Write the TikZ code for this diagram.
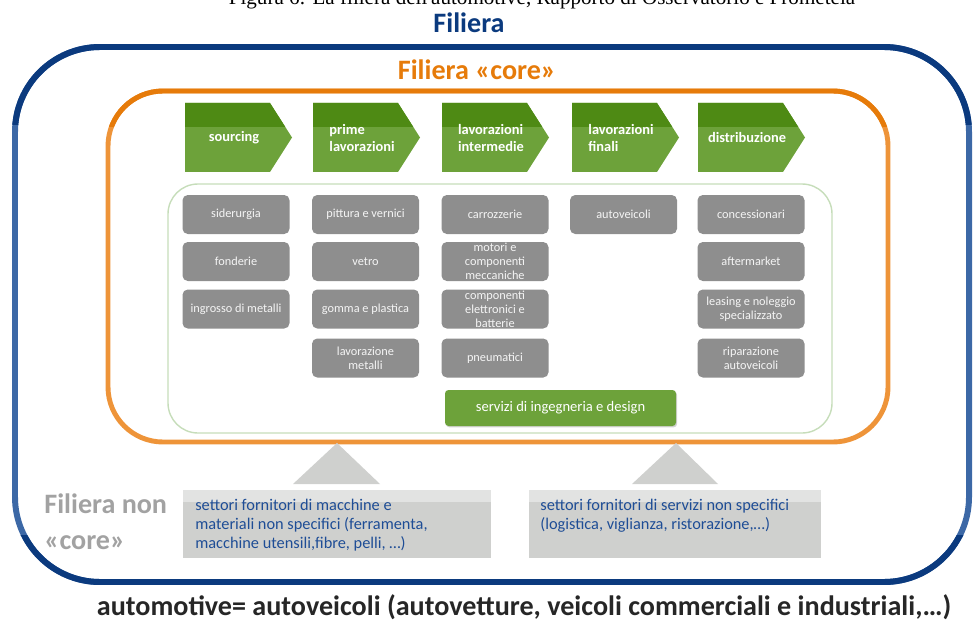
\documentclass[tikz,border=0pt]{standalone}
\usepackage{fontspec}
\setmainfont{Carlito}
\newfontfamily\capfont{Liberation Serif}
\usetikzlibrary{shadows}

\definecolor{fnavy}{HTML}{0B3A7E}
\definecolor{fblue}{HTML}{3C68A6}
\definecolor{forange}{HTML}{E67B0A}
\definecolor{flightorange}{HTML}{EE9439}
\definecolor{fdarkgreen}{HTML}{4E8A14}
\definecolor{fgreen}{HTML}{6DA23A}
\definecolor{fboxgray}{HTML}{8E8E8E}
\definecolor{fpalegray}{HTML}{CFD0CE}
\definecolor{fpalegreen}{HTML}{C6DDBA}
\definecolor{ftextblue}{HTML}{1E4D96}
\definecolor{fnoncore}{HTML}{A2A2A2}

\tikzset{
  sector/.style={fill=fboxgray, rounded corners=3pt, minimum width=2.14cm,
    minimum height=0.78cm, text=white!92!gray, align=center, inner sep=0pt,
    font=\fontsize{7}{8}\selectfont},
  phase/.style={text=white, align=left, inner sep=0pt,
    font=\fontsize{8.2}{9.6}\selectfont\bfseries},
  infobox/.style={fill=fpalegray, minimum width=6.16cm, minimum height=1.36cm,
    anchor=north west, inner sep=0pt},
  infotext/.style={text=ftextblue, align=left, anchor=north west, inner sep=0pt,
    font=\fontsize{9.3}{10.8}\selectfont},
  heading/.style={inner sep=0pt, font=\fontsize{16}{19}\selectfont\bfseries}
}

% green arrow of one phase, #1 = left edge
\newcommand{\phasearrow}[1]{%
  \fill[fgreen] (#1,-10.3) -- ++(8.5,0) -- ++(2.2,-3.45) -- ++(-2.2,-3.45) -- ++(-8.5,0) -- cycle;
  \fill[fdarkgreen] (#1,-10.3) -- ++(8.5,0) -- ++(1.53,-2.4) -- ++(-10.03,0) -- cycle;}

\begin{document}
\begin{tikzpicture}[scale=0.2]
\useasboundingbox (0,0) rectangle (97.6,-62.6);
\node[anchor=base, inner sep=0pt, font=\capfont\fontsize{12}{14}\selectfont] (caption) at (54.2,-0.5)
  {Figura 6: La filiera dell'automotive, Rapporto di Osservatorio e Prometeia};

% outer frame
\node[heading, text=fnavy] (filiera) at (46.9,-2.3) {Filiera};
\draw [fblue, line width=3.4pt, rounded corners=1.7cm] (1.5,-4.7) rectangle (96.9,-58.2);
\begin{scope}
\clip (0,0) rectangle (97.6,-12.5);
\draw [fnavy, line width=3.4pt, rounded corners=1.7cm] (1.5,-4.7) rectangle (96.9,-58.2);
\end{scope}
\begin{scope}
\clip (0,-53.5) rectangle (97.6,-62.6);
\draw [fnavy, line width=3.4pt, rounded corners=1.7cm] (1.5,-4.7) rectangle (96.9,-58.2);
\end{scope}

% core frame
\node[heading, text=forange] (core) at (47.7,-7) {Filiera «core»};
\draw [flightorange, line width=2.8pt, rounded corners=1.1cm] (10.8,-9.1) rectangle (88.8,-44.2);
\begin{scope}
\clip (0,0) rectangle (97.6,-12.7);
\draw [forange, line width=2.8pt, rounded corners=1.1cm] (10.8,-9.1) rectangle (88.8,-44.2);
\end{scope}

% phases
\phasearrow{18.5}
\phasearrow{31.3}
\phasearrow{44.2}
\phasearrow{57.2}
\phasearrow{69.8}
\node[phase] (sourcing) at (23.4,-13.75) {sourcing};
\node[phase] (prime) at (36.2,-13.8) {prime\\lavorazioni};
\node[phase] (intermedie) at (49.1,-13.8) {lavorazioni\\intermedie};
\node[phase] (finali) at (62.1,-13.8) {lavorazioni\\finali};
\node[phase] (distribuzione) at (74.7,-13.75) {distribuzione};

% sectors
\draw [fpalegreen, line width=0.8pt, rounded corners=0.6cm] (16.8,-18.4) rectangle (83.2,-43.3);
\node[sector] (siderurgia) at (23.6,-21.45) {siderurgia};
\node[sector] (fonderie) at (23.6,-26.15) {fonderie};
\node[sector] (ingrosso) at (23.6,-30.9) {ingrosso di metalli};
\node[sector] (pittura) at (36.55,-21.45) {pittura e vernici};
\node[sector] (vetro) at (36.55,-26.15) {vetro};
\node[sector] (gomma) at (36.55,-30.9) {gomma e plastica};
\node[sector] (metalli) at (36.55,-35.8) {lavorazione\\metalli};
\node[sector] (carrozzerie) at (49.5,-21.45) {carrozzerie};
\node[sector] (motori) at (49.5,-26.15) {motori e\\componenti\\meccaniche};
\node[sector] (elettronici) at (49.5,-30.9) {componenti\\elettronici e\\batterie};
\node[sector] (pneumatici) at (49.5,-35.8) {pneumatici};
\node[sector] (autoveicoli) at (62.35,-21.45) {autoveicoli};
\node[sector] (concessionari) at (75.1,-21.45) {concessionari};
\node[sector] (aftermarket) at (75.1,-26.15) {aftermarket};
\node[sector] (leasing) at (75.1,-30.9) {leasing e noleggio\\specializzato};
\node[sector] (riparazione) at (75.1,-35.8) {riparazione\\autoveicoli};
\node[fill=fgreen, rounded corners=2pt, minimum width=4.62cm, minimum height=0.72cm,
  text=white, font=\fontsize{8.3}{10}\selectfont, inner sep=0pt,
  drop shadow={shadow xshift=0.6pt, shadow yshift=-0.8pt, opacity=0.35}]
  (servizi) at (56.05,-40.8) {servizi di ingegneria e design};

% non core suppliers
\node[heading, text=fnoncore, align=left, anchor=west,
  font=\fontsize{16}{20.5}\selectfont\bfseries] (noncore) at (4.4,-52.2) {Filiera non\\«core»};
\fill [fpalegray] (29.3,-48.4) -- (33.7,-44.3) -- (38,-48.4) -- cycle;
\fill [fpalegray] (63.2,-48.4) -- (67.6,-44.3) -- (71.8,-48.4) -- cycle;
\node[infobox] (boxmacchine) at (18.3,-49) {};
\node[infobox, minimum width=5.84cm] (boxservizi) at (52.9,-49) {};
\fill [fpalegray!60!white] (18.3,-49) rectangle (49.1,-50.2);
\fill [fpalegray!60!white] (52.9,-49) rectangle (82.1,-50.2);
\node[infotext] (macchine) at (19.5,-49.9)
  {settori fornitori di macchine e\\materiali non specifici (ferramenta,\\macchine utensili,fibre, pelli, \dots)};
\node[infotext] (servizinon) at (54,-49.9)
  {settori fornitori di servizi non specifici\\(logistica, viglianza, ristorazione,\dots)};

\node[inner sep=0pt, text=black!85, font=\fontsize{16}{19}\selectfont\bfseries] (automotive) at (52.4,-60.7)
  {automotive= autoveicoli (autovetture, veicoli commerciali e industriali,\dots)};
\end{tikzpicture}
\end{document}
